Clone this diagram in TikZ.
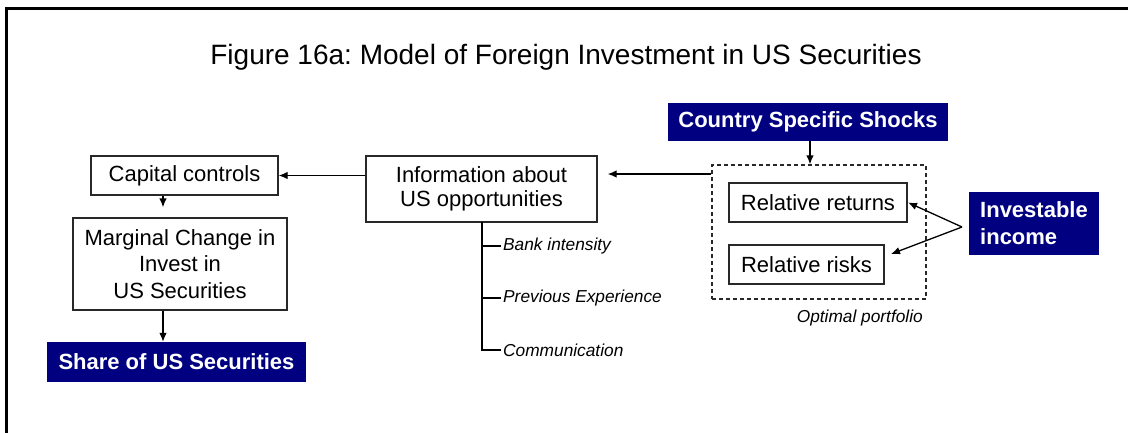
\documentclass[tikz,border=0pt]{standalone}
\usepackage{fontspec}
\setmainfont{Liberation Sans}
\usetikzlibrary{arrows.meta,positioning,calc}
\definecolor{navy}{RGB}{0,0,128}
\definecolor{edge}{RGB}{40,40,40}
\frenchspacing
\tikzset{
  box/.style={draw=edge,line width=1.3pt,inner sep=0pt,align=center,font=\fontsize{22}{26.5}\selectfont},
  darkbox/.style={fill=navy,draw=none,inner sep=0pt,text=white,font=\bfseries\fontsize{22}{27}\selectfont},
  dbox/.style={draw=edge,line width=1.2pt,dash pattern=on 4pt off 3pt,inner sep=0pt},
  arr/.style={line width=1.3pt,-{Latex[length=9pt,width=7.5pt]}},
  plain/.style={line width=1.3pt},
  small/.style={font=\itshape\fontsize{17.3}{20}\selectfont,inner sep=0pt},
}
\begin{document}
\begin{tikzpicture}[x=1pt,y=-1pt]
\clip (0,0) rectangle (1128,432);
\fill[white] (0,0) rectangle (1128,432);
\draw[line width=2.2pt] (6.5,445) -- (6.5,8.5) -- (1140,8.5);
\node[inner sep=0pt,font=\fontsize{28}{32}\selectfont] (title) at (566,57) {Figure 16a: Model of Foreign Investment in US Securities};
% right group
\node[darkbox,minimum width=280pt,minimum height=38pt] (css) at (808,122) {Country Specific Shocks};
\node[dbox,minimum width=214pt,minimum height=134pt] (opt) at (819,232) {};
\node[box,minimum width=178pt,minimum height=39pt] (ret) at (818,202.5) {Relative returns};
\node[box,minimum width=155pt,minimum height=39pt] (risk) at (806.5,264.5) {Relative risks};
\node[darkbox,minimum width=130pt,minimum height=63pt,align=left] (ii) at (1034,223.5) {Investable\\income};
\node[small,anchor=east] (optl) at (923,318) {Optimal portfolio};
\coordinate (fork) at (962,227);
\coordinate (retend) at (908,202.5);
\coordinate (riskend) at (891,254);
% middle
\node[box,minimum width=231pt,minimum height=66pt,font=\fontsize{22}{23.5}\selectfont] (info) at (481.5,189) {Information about\\US opportunities};
\node[small,anchor=west] (bank) at (503,246) {Bank intensity};
\node[small,anchor=west] (prev) at (503,298) {Previous Experience};
\node[small,anchor=west] (comm) at (503,350) {Communication};
\coordinate (trunk) at (482,222);
% left
\node[box,minimum width=187pt,minimum height=39pt] (cap) at (184.5,175.5) {Capital controls};
\node[box,minimum width=214pt,minimum height=92pt] (marg) at (180,264) {Marginal Change in\\Invest in\\US Securities};
\node[darkbox,minimum width=259pt,minimum height=40pt] (share) at (176.5,362) {Share of US Securities};
% connectors
\draw[arr] (css.south -| 810,0) -- (opt.north -| 810,0);
\draw[arr,shorten >=10pt] (opt.west |- 0,174) -- (info.east |- 0,174);
\draw[arr] (info.west |- cap.east) -- (cap.east);
\draw[arr,shorten >=10pt] (cap.south -| 163,0) -- (marg.north -| 163,0);
\draw[arr] (marg.south -| 163,0) -- (share.north -| 163,0);
\draw[arr] (fork) -- (retend);
\draw[arr] (fork) -- (riskend);
\draw[plain] (trunk) -- (trunk |- comm.west) -- ([xshift=-2pt]comm.west);
\draw[plain] (trunk |- bank.west) -- ([xshift=-2pt]bank.west);
\draw[plain] (trunk |- prev.west) -- ([xshift=-2pt]prev.west);
\end{tikzpicture}
\end{document}
